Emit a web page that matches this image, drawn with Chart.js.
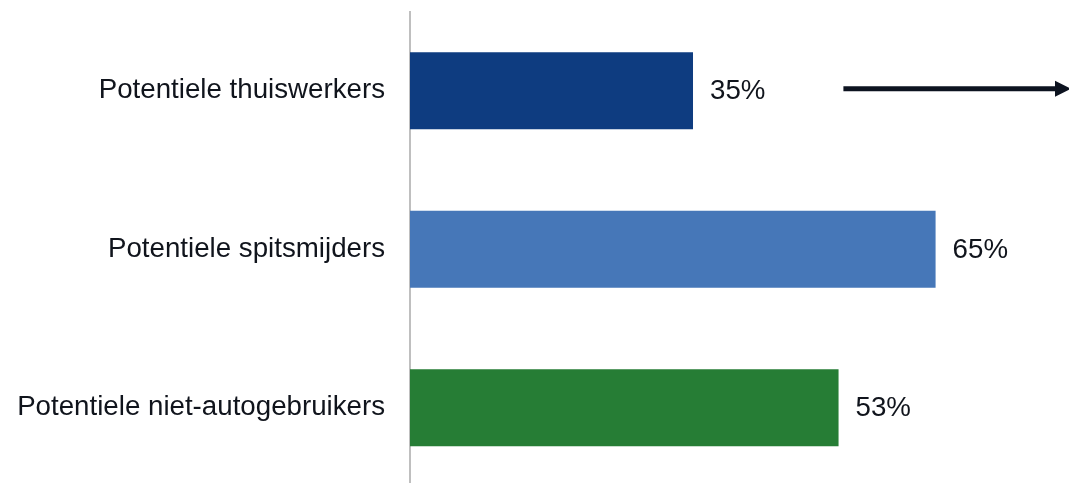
<!DOCTYPE html>
<html>
<head>
<meta charset="utf-8">
<script src="https://cdn.jsdelivr.net/npm/chart.js@4/dist/chart.umd.min.js"></script>
<style>
    html, body { margin: 0; padding: 0; background: #fff; overflow: hidden; }
    #wrap { position: relative; width: 1069px; height: 487px; }
</style>
</head>
<body>
<div id="wrap"><canvas id="myBarChart"></canvas></div>
<script>
var categories = ['Potentiele thuiswerkers', 'Potentiele spitsmijders', 'Potentiele niet-autogebruikers'];
var shares = [35, 65, 53];
var barColors = ['#0e3c80', '#4677b8', '#267d35'];

// arrow next to the first bar, in axis units
var arrowFrom = 53.6;
var arrowTo = 81.5;

var textColor = '#10141c';
var fontFamily = '"Liberation Sans", Arial, sans-serif';

var valueLabels = {
    id: 'valueLabels',
    afterDatasetsDraw: function(chart) {
        var ctx = chart.ctx;
        var meta = chart.getDatasetMeta(0);
        ctx.save();
        ctx.font = '27.7px ' + fontFamily;
        ctx.fillStyle = textColor;
        ctx.textAlign = 'left';
        ctx.textBaseline = 'middle';
        meta.data.forEach(function(bar, i) {
            ctx.fillText(shares[i] + '%', bar.x + 17, bar.y + 1);
        });
        ctx.restore();
    }
};

var arrow = {
    id: 'arrow',
    afterDraw: function(chart) {
        var ctx = chart.ctx;
        var x = chart.scales.x;
        var y = chart.scales.y;
        var x0 = x.getPixelForValue(arrowFrom);
        var x1 = x.getPixelForValue(arrowTo);
        var yy = y.getPixelForValue(0) - 2;
        ctx.save();
        ctx.strokeStyle = '#0d1320';
        ctx.fillStyle = '#0d1320';
        ctx.lineWidth = 5;
        ctx.beginPath();
        ctx.moveTo(x0, yy);
        ctx.lineTo(x1 - 12, yy);
        ctx.stroke();
        ctx.beginPath();
        ctx.moveTo(x1 - 14, yy - 8);
        ctx.lineTo(x1 + 2, yy);
        ctx.lineTo(x1 - 14, yy + 8);
        ctx.closePath();
        ctx.fill();
        ctx.restore();
    }
};

var ctx = document.getElementById('myBarChart').getContext('2d');
new Chart(ctx, {
    type: 'bar',
    plugins: [valueLabels, arrow],
    data: {
        labels: categories,
        datasets: [{
            data: shares,
            backgroundColor: barColors,
            borderWidth: 0,
            categoryPercentage: 1,
            barPercentage: 0.486
        }]
    },
    options: {
        indexAxis: 'y',
        responsive: true,
        maintainAspectRatio: false,
        animation: false,
        layout: {
            padding: { top: 11.5, right: 0, bottom: 0, left: 0 }
        },
        plugins: {
            legend: { display: false },
            tooltip: { enabled: false }
        },
        scales: {
            x: {
                display: false,
                min: 0,
                max: arrowTo
            },
            y: {
                afterFit: function(scale) {
                    scale.width = 410;
                    // labels sit in the middle of their bands, no extra room needed
                    scale.paddingTop = 0;
                    scale.paddingBottom = 0;
                },
                grid: { display: false, drawTicks: false },
                border: { display: true, color: '#bfbfbf', width: 2 },
                ticks: {
                    padding: 25,
                    color: textColor,
                    font: { family: fontFamily, size: 27.7 }
                }
            }
        }
    }
});
</script>
</body>
</html>
